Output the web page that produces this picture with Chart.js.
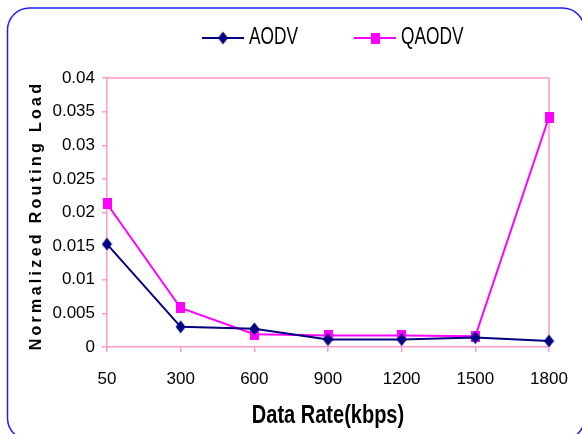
<!DOCTYPE html>
<html>
<head>
<meta charset="utf-8">
<script src="https://cdn.jsdelivr.net/npm/chart.js@4"></script>
<style>
  html, body { margin: 0; padding: 0; background: #fff; }
  #wrap { width: 582px; height: 434px; }
</style>
</head>
<body>
<div id="wrap"><canvas id="nrlChart" width="582" height="434"></canvas></div>
<script>
// Data
const rates = ['50', '300', '600', '900', '1200', '1500', '1800'];
const aodv = [0.0153, 0.0030, 0.0027, 0.0011, 0.0011, 0.0014, 0.0009];
const qaodv = [0.0213, 0.0058, 0.0019, 0.0017, 0.0017, 0.0016, 0.0342];
const yMin = 0, yMax = 0.04, yStep = 0.005;

const xTitle = 'Data Rate(kbps)';
const yTitle = 'Normalized Routing Load';

const navy = '#000080';
const magenta = '#ff00ff';
const pink = '#ff99cc';

// marker images (diamond / square)
function diamond(color) {
    const c = document.createElement('canvas');
    c.width = 11; c.height = 14;
    const g = c.getContext('2d');
    g.fillStyle = color;
    g.beginPath();
    g.moveTo(5.5, 0.5); g.lineTo(10.5, 7); g.lineTo(5.5, 13.5); g.lineTo(0.5, 7);
    g.closePath();
    g.fill();
    return c;
}
function square(color) {
    const c = document.createElement('canvas');
    c.width = 9; c.height = 11;
    const g = c.getContext('2d');
    g.fillStyle = color;
    g.fillRect(0, 0, 9, 11);
    return c;
}
const aodvMark = diamond(navy);
const qaodvMark = square(magenta);

function narrowText(ctx, text, x, y, sx, align) {
    ctx.save();
    ctx.translate(x, y);
    ctx.scale(sx, 1);
    ctx.textAlign = align;
    ctx.fillText(text, 0, 0);
    ctx.restore();
}

const frame = {
    id: 'frame',
    beforeDraw(chart) {
        const ctx = chart.ctx;
        ctx.save();
        ctx.fillStyle = '#fff';
        ctx.fillRect(0, 0, chart.width, chart.height);
        // outer rounded border
        ctx.strokeStyle = '#1f1ff0';
        ctx.lineWidth = 1.5;
        ctx.beginPath();
        ctx.roundRect(7.5, 8, 577, 432, 22);
        ctx.stroke();
        ctx.restore();
    },
    beforeDatasetsDraw(chart) {
        const a = chart.chartArea;
        const ctx = chart.ctx;
        ctx.save();
        ctx.strokeStyle = pink;
        ctx.lineWidth = 1.5;
        ctx.beginPath();
        ctx.moveTo(a.left, a.top);
        ctx.lineTo(a.right, a.top);
        ctx.lineTo(a.right, a.bottom);
        ctx.stroke();
        ctx.restore();
    },
    afterDraw(chart) {
        const ctx = chart.ctx;
        const a = chart.chartArea;
        ctx.save();
        ctx.fillStyle = '#000';

        // legend
        const items = [
            { x: 202, text: chart.data.datasets[0].label, color: navy, mark: aodvMark },
            { x: 354, text: chart.data.datasets[1].label, color: magenta, mark: qaodvMark }
        ];
        items.forEach(it => {
            ctx.strokeStyle = it.color;
            ctx.lineWidth = 2;
            ctx.beginPath();
            ctx.moveTo(it.x, 38);
            ctx.lineTo(it.x + 42, 38);
            ctx.stroke();
            ctx.drawImage(it.mark, it.x + 21 - it.mark.width / 2, 38 - it.mark.height / 2);
            ctx.font = '24px "Liberation Sans", Arial, sans-serif';
            ctx.textBaseline = 'alphabetic';
            narrowText(ctx, it.text, it.x + 47, 44, 0.72, 'left');
        });

        // x axis title
        ctx.font = 'bold 25px "Liberation Sans", Arial, sans-serif';
        ctx.textBaseline = 'alphabetic';
        narrowText(ctx, xTitle, (a.left + a.right) / 2, 423, 0.8, 'center');

        // y axis title
        ctx.translate(37, (a.top + a.bottom) / 2 + 3);
        ctx.rotate(-Math.PI / 2);
        ctx.font = 'bold 16px "Liberation Sans", Arial, sans-serif';
        ctx.letterSpacing = '3.3px';
        ctx.textAlign = 'center';
        ctx.textBaseline = 'middle';
        ctx.fillText(yTitle, 0, 0);
        ctx.restore();
    }
};

new Chart(document.getElementById('nrlChart'), {
    type: 'line',
    data: {
        labels: rates,
        datasets: [{
            label: 'AODV',
            data: aodv,
            borderColor: navy,
            backgroundColor: navy,
            borderWidth: 2,
            pointStyle: aodvMark,
            tension: 0
        },
        {
            label: 'QAODV',
            data: qaodv,
            borderColor: magenta,
            backgroundColor: magenta,
            borderWidth: 2,
            pointStyle: qaodvMark,
            tension: 0
        }]
    },
    options: {
        responsive: false,
        animation: false,
        layout: { padding: { left: 0, top: 78, right: 33, bottom: 27 } },
        plugins: {
            legend: { display: false },
            tooltip: { enabled: false }
        },
        scales: {
            x: {
                offset: false,
                afterFit: s => { s.height = 60; s.paddingLeft = 0; s.paddingRight = 0; },
                grid: { drawOnChartArea: false, color: pink, tickLength: 5, lineWidth: 1.5 },
                border: { color: pink, width: 1.5 },
                ticks: {
                    color: '#000',
                    padding: 17,
                    maxRotation: 0,
                    autoSkip: false,
                    font: { family: '"Liberation Sans", Arial, sans-serif', size: 17 }
                }
            },
            y: {
                min: yMin,
                max: yMax,
                afterFit: s => { s.width = 107; },
                grid: { drawOnChartArea: false, color: pink, tickLength: 5, lineWidth: 1.5 },
                border: { color: pink, width: 1.5 },
                ticks: {
                    stepSize: yStep,
                    color: '#000',
                    padding: 7,
                    font: { family: '"Liberation Sans", Arial, sans-serif', size: 17 },
                    callback: v => String(+v.toFixed(3))
                }
            }
        }
    },
    plugins: [frame]
});
</script>
</body>
</html>
